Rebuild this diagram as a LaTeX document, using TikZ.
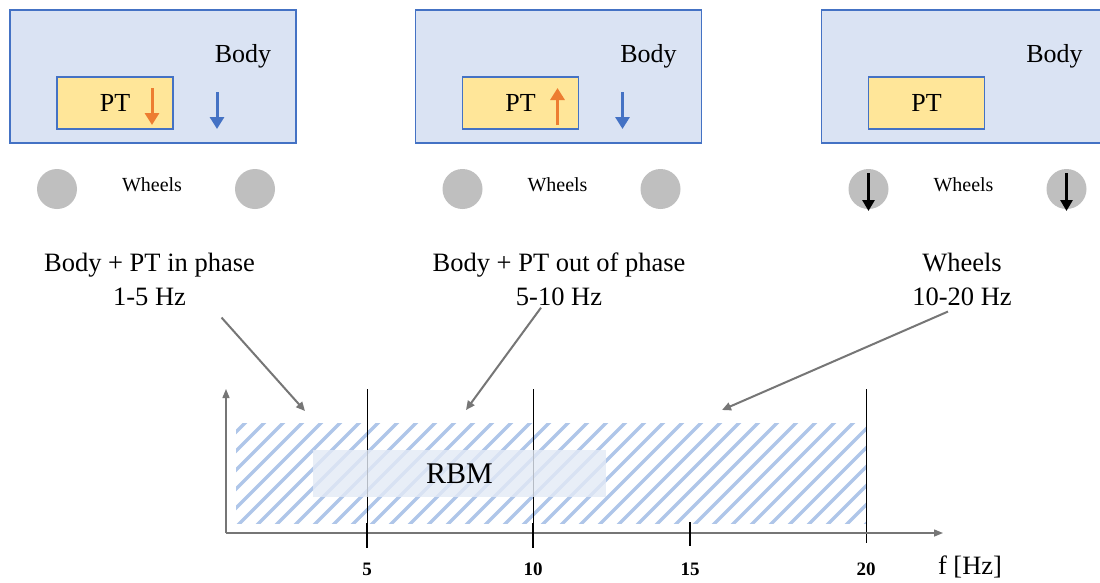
\documentclass[tikz,border=0pt]{standalone}
\usepackage{fontspec}
\setmainfont{Liberation Serif}
\usetikzlibrary{arrows.meta}
\definecolor{bodyfill}{HTML}{DAE3F3}
\definecolor{frame}{HTML}{4472C4}
\definecolor{ptfill}{HTML}{FFE699}
\definecolor{orangearr}{HTML}{ED7D31}
\definecolor{wheelgray}{HTML}{BFBFBF}
\definecolor{pointer}{HTML}{767676}
\definecolor{hatch}{HTML}{AFC6E9}
\definecolor{rbmfill}{HTML}{E3EAF6}
\tikzset{
  bodybox/.style={draw=frame, line width=1.3pt, fill=bodyfill, minimum width=286pt, minimum height=133pt, inner sep=0pt},
  ptbox/.style={draw=frame, line width=1.3pt, fill=ptfill, minimum width=116pt, minimum height=52pt, inner sep=0pt, font=\fontsize{26}{30}\selectfont},
  bigtext/.style={font=\fontsize{26.5}{31}\selectfont, align=center, inner sep=0pt},
  wheeltext/.style={font=\fontsize{20}{24}\selectfont, inner sep=0pt},
  wheel/.style={circle, fill=wheelgray, minimum size=40pt, inner sep=0pt},
  motion/.style={line width=3pt, -{Triangle[length=12pt, width=14pt]}},
  wheelmotion/.style={line width=2.8pt, black, -{Triangle[length=11pt, width=12pt]}},
  pointerarrow/.style={draw=pointer, line width=2pt, -{Triangle[length=9pt, width=8pt]}},
  axis/.style={draw=pointer, line width=1.4pt, -{Triangle[length=9pt, width=7pt]}},
  bandline/.style={black, line width=1pt},
  tickmark/.style={black, line width=2.6pt},
  ticklabel/.style={font=\fontsize{19}{22}\selectfont\bfseries, inner sep=0pt},
}
\begin{document}
\begin{tikzpicture}[x=1pt, y=-1pt]
\clip (0,0) rectangle (1100,582);
\fill[white] (0,0) rectangle (1100,582);

% three vehicle panels: body, powertrain, wheels
\foreach \i/\s in {1/0, 2/405.5, 3/811.5} {
  \begin{scope}[xshift=\s pt]
    \node[bodybox] (body\i) at (153,76.5) {};
    \node[bigtext, font=\fontsize{26}{30}\selectfont] (bodylabel\i) at (243,56) {Body};
    \node[ptbox] (pt\i) at (115,103) {PT};
    \node[wheel] (wl\i) at (57,189) {};
    \node[wheel] (wr\i) at (255,189) {};
    \node[wheeltext] (wheels\i) at (152,185) {Wheels};
  \end{scope}
}

% panel 1: body and PT moving together
\coordinate (o1a) at (152,88);  \coordinate (o1b) at (152,125);
\coordinate (b1a) at (217,92);  \coordinate (b1b) at (217,129);
\draw[motion, orangearr] (o1a) -- (o1b);
\draw[motion, frame] (b1a) -- (b1b);

% panel 2: body and PT in opposition
\coordinate (o2a) at (557.5,125); \coordinate (o2b) at (557.5,88);
\coordinate (b2a) at (622.5,92);  \coordinate (b2b) at (622.5,129);
\draw[motion, orangearr] (o2a) -- (o2b);
\draw[motion, frame] (b2a) -- (b2b);

% panel 3: wheel hop
\coordinate (w3la) at (868.5,173); \coordinate (w3lb) at (868.5,211);
\coordinate (w3ra) at (1066.5,173); \coordinate (w3rb) at (1066.5,211);
\draw[wheelmotion] (w3la) -- (w3lb);
\draw[wheelmotion] (w3ra) -- (w3rb);

% mode descriptions
\node[bigtext] (mode1) at (149.5,279) {Body + PT in phase\\[3pt]1-5 Hz};
\node[bigtext] (mode2) at (559,279) {Body + PT out of phase\\[3pt]5-10 Hz};
\node[bigtext] (mode3) at (962,279) {Wheels\\[3pt]10-20 Hz};

% hatched frequency band
\begin{scope}
  \clip (236,423) rectangle (866,523);
  \foreach \k in {-6,...,34} {
    \draw[hatch, line width=3.3pt] (236+19*\k,527) -- (236+19*\k+110,417);
  }
\end{scope}

% band limits
\coordinate (l5a) at (367,389);  \coordinate (l5b) at (367,543);
\coordinate (l10a) at (533,389); \coordinate (l10b) at (533,543);
\coordinate (l20a) at (866,389); \coordinate (l20b) at (866,543);
\draw[bandline] (l5a) -- (l5b);
\draw[bandline] (l10a) -- (l10b);
\draw[bandline] (l20a) -- (l20b);

% rigid body modes region
\node[fill=rbmfill, fill opacity=0.8, text opacity=1, minimum width=293pt, minimum height=47pt, inner sep=0pt,
      font=\fontsize{30}{34}\selectfont] (rbm) at (459.5,473.5) {RBM};

% axes
\coordinate (origin) at (226,533);
\coordinate (xend) at (943,533);
\coordinate (yend) at (226,389);
\draw[axis] (origin) -- (xend);
\draw[axis] (origin) -- (yend);

% ticks and labels
\foreach \x/\v/\a/\b in {367/5/523/548, 533/10/523/548, 690/15/522/546} {
  \coordinate (t\v a) at (\x,\a);
  \coordinate (t\v b) at (\x,\b);
  \draw[tickmark] (t\v a) -- (t\v b);
}
\node[ticklabel] (lab5) at (367,569) {5};
\node[ticklabel] (lab10) at (533,569) {10};
\node[ticklabel] (lab15) at (690,569) {15};
\node[ticklabel] (lab20) at (866,569) {20};
\node[bigtext] (unit) at (970,567) {f [Hz]};

% pointers from descriptions to the axis
\coordinate (p1) at (305,411);
\coordinate (p2) at (466,410);
\coordinate (p3) at (722,410);
\draw[pointerarrow] ([xshift=72pt,yshift=-12pt]mode1.south) -- (p1);
\draw[pointerarrow] ([xshift=-18pt,yshift=-2pt]mode2.south) -- (p2);
\draw[pointerarrow] ([xshift=-14pt,yshift=-6pt]mode3.south) -- (p3);
\end{tikzpicture}
\end{document}
